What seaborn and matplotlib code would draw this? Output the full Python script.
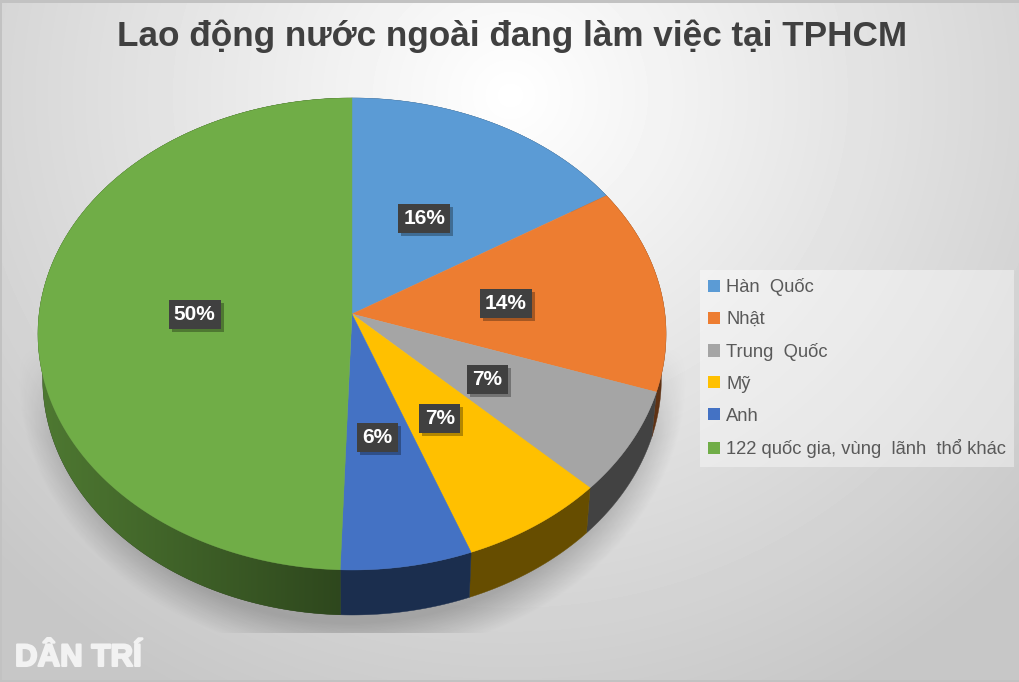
import numpy as np
import matplotlib
matplotlib.use('Agg')
import matplotlib.pyplot as plt
import seaborn as sns
import matplotlib.patheffects as pe
from matplotlib.patches import Patch, Polygon, Rectangle
from matplotlib.colors import to_rgb

# Slice sizes, they sit a bit off the printed labels
categories = ['Hàn  Quốc', 'Nhật', 'Trung  Quốc', 'Mỹ', 'Anh', '122 quốc gia, vùng  lãnh  thổ khác']
shares = [16.15, 14.1, 7.05, 7.0, 6.25, 49.45]
printed = ['16%', '14%', '7%', '7%', '6%', '50%']
slice_colors = ['#5B9BD5', '#ED7D31', '#A5A5A5', '#FFC000', '#4472C4', '#70AD47']
chart_title = 'Lao động nước ngoài đang làm việc tại TPHCM'

sns.set_theme(style='white')
plt.rcParams['font.family'] = ['Liberation Sans', 'DejaVu Sans']
palette = sns.color_palette(slice_colors)

W, H = 1020, 682
CX, CY = 352, 314
A, B, K = 234.3, 312.9, 0.0847
DEPTH = 45


def project(u, v, depth=0.0):
    # tilted disk -> pixel coordinates, far edge looks smaller
    w = 1 + K * v
    sx = 1 - 0.015 * depth / DEPTH
    return CX + sx * B * u / w, CY - A * v / w + depth


fig = plt.figure(figsize=(W / 100, H / 100), dpi=100)
ax = fig.add_axes([0, 0, 1, 1])
ax.axis('off')

# background gradient
yy, xx = np.mgrid[0:H, 0:W]
t = np.sqrt(((xx - 510) / 640) ** 2 + ((yy - 95) / 610) ** 2)
bg = 1 - 0.2 * np.clip(t, 0, 1.1)
bg[:3, :] = 0.76
bg[-2:, :] = 0.76
bg[:, :2] = 0.76
ax.imshow(bg, cmap='gray', vmin=0, vmax=1, extent=(0, W, H, 0), aspect='auto', zorder=0)

# soft shadow below the disk, cut off flat at the bottom
d = np.sqrt(((xx - 352) / 335) ** 2 + ((yy - 372) / 285) ** 2)
fade = np.clip((yy - 345) / 90, 0, 1)
shadow = np.zeros((H, W, 4))
shadow[..., 3] = 0.22 * np.clip((1 - d) / 0.12, 0, 1) * fade * (yy < 633)
ax.imshow(shadow, extent=(0, W, H, 0), aspect='auto', zorder=1)

# the pie itself gives the angles and label spots
pie_ax = fig.add_axes([0, 0, 0.1, 0.1])
wedges, _, autotexts = pie_ax.pie(shares, startangle=90, counterclock=False, colors=palette,
                                  autopct='%.0f%%', pctdistance=0.5)
pie_ax.set_visible(False)

# side wall, flat dark colour per slice
for wedge, col in zip(wedges, palette):
    angles = np.radians(np.linspace(wedge.theta1, wedge.theta2, 200))
    tx, ty = project(np.cos(angles), np.sin(angles))
    bx, by = project(np.cos(angles), np.sin(angles), DEPTH)
    pts = np.vstack([np.column_stack([tx, ty]), np.column_stack([bx, by])[::-1]])
    dark = tuple(c * 0.4 for c in to_rgb(col))
    wall = Polygon(pts, closed=True, facecolor=dark, edgecolor=dark, linewidth=0.3, zorder=2)
    ax.add_patch(wall)
    if wedge is wedges[-1]:
        # the left part of the wall gets lighter towards the edge
        shade = 0.4 + 0.3 * np.clip(-(xx - CX) / B, 0, 1)
        grad = np.dstack([shade * c for c in to_rgb(col)])
        im = ax.imshow(grad, extent=(0, W, H, 0), aspect='auto', zorder=2.1)
        im.set_clip_path(wall)

# top face
for wedge, col in zip(wedges, palette):
    angles = np.radians(np.linspace(wedge.theta1, wedge.theta2, 200))
    px, py = project(np.cos(angles), np.sin(angles))
    pts = np.vstack([[CX, CY], np.column_stack([px, py])])
    ax.add_patch(Polygon(pts, closed=True, facecolor=col, edgecolor=col, linewidth=0.3, zorder=3))

# data labels
for txt, lab in zip(autotexts, printed):
    lx, ly = project(*txt.get_position())
    lx, ly = lx - 1, ly + 3
    bw, bh = (52, 29) if len(lab) == 3 else (41, 29)
    ax.add_patch(Rectangle((lx - bw / 2 + 3, ly - bh / 2 + 3), bw, bh, facecolor='black', edgecolor='none',
                           alpha=0.3, zorder=4))
    ax.add_patch(Rectangle((lx - bw / 2, ly - bh / 2), bw, bh, facecolor='#404040', edgecolor='none', zorder=4.5))
    ax.text(lx, ly, lab, color='white', fontsize=15, fontweight='bold', ha='center', va='center', zorder=5)

ax.text(512, 36, chart_title, fontsize=25.3, fontweight='bold', color='#404040', ha='center', va='center', zorder=5)

handles = [Patch(facecolor=c, edgecolor='none', label=n) for c, n in zip(palette, categories)]
leg = ax.legend(handles=handles, loc='upper left', bbox_to_anchor=(700, 270), bbox_transform=ax.transData,
                fontsize=13.2, labelcolor='#595959', frameon=True, fancybox=False, facecolor='white',
                edgecolor='none', framealpha=0.4, borderaxespad=0, borderpad=0.45, handlelength=0.65,
                handleheight=0.65, handletextpad=0.33, labelspacing=0.81)
leg.set_zorder(5)

ax.text(15, 666, 'DÂN TRÍ', fontsize=22.5, fontweight='bold', color='#f2f2f2', ha='left', va='baseline', zorder=5,
        path_effects=[pe.withStroke(linewidth=1.5, foreground='#f2f2f2')])

ax.set_xlim(0, W)
ax.set_ylim(H, 0)
fig.savefig('out.png', dpi=100)
